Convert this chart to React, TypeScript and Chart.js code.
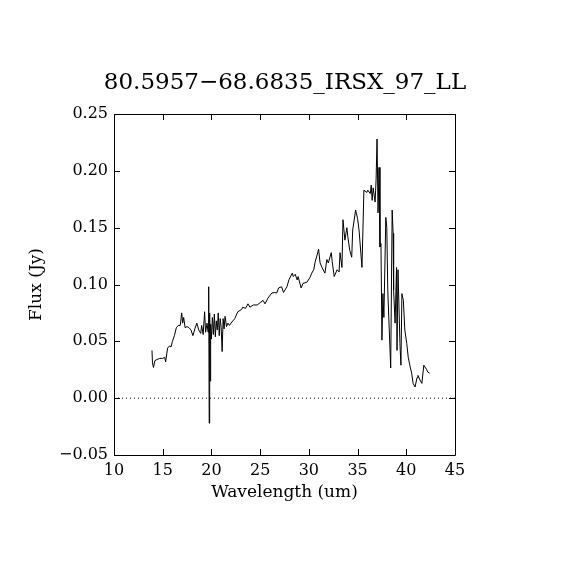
import React, { useEffect, useRef } from "react";
import { Chart, registerables } from "chart.js";

Chart.register(...registerables);

const titleText = "80.5957\u221268.6835_IRSX_97_LL";
const xAxisLabel = "Wavelength (um)";
const yAxisLabel = "Flux (Jy)";

const wavelength = [
  13.9, 13.95, 14.05, 14.2, 14.4, 14.7, 15.0, 15.2, 15.3, 15.5, 15.7, 15.85, 16.0, 16.2, 16.4, 16.6, 16.8,
  16.95, 17.05, 17.15, 17.3, 17.5, 17.7, 17.9, 18.1, 18.3, 18.5, 18.7, 18.9, 19.0, 19.15, 19.3, 19.4,
  19.55, 19.65, 19.72, 19.77, 19.82, 19.87, 19.92, 20.0, 20.1, 20.2, 20.3, 20.4, 20.5, 20.6, 20.7, 20.8,
  20.9, 21.0, 21.1, 21.2, 21.3, 21.4, 21.55, 21.7, 21.85, 22.1, 22.4, 22.7, 23.1, 23.2, 23.5, 23.75,
  23.95, 24.3, 24.7, 25.0, 25.3, 25.5, 25.8, 26.2, 26.5, 26.7, 26.9, 27.2, 27.4, 27.75, 27.95, 28.3,
  28.4, 28.6, 28.8, 28.9, 29.2, 29.4, 29.8, 30.1, 30.3, 30.5, 30.65, 30.85, 31.0, 31.15, 31.35, 31.65,
  31.85, 32.0, 32.3, 32.4, 32.6, 32.9, 33.1, 33.2, 33.4, 33.5, 33.7, 33.9, 34.0, 34.2, 34.4, 34.5, 34.8,
  35.0, 35.15, 35.45, 35.55, 35.65, 35.95, 36.05, 36.3, 36.4, 36.5, 36.6, 36.8, 36.9, 37.0, 37.1, 37.2,
  37.3, 37.4, 37.5, 37.6, 37.7, 37.9, 38.0, 38.1, 38.4, 38.55, 38.65, 38.7, 38.85, 39.0, 39.05, 39.15,
  39.35, 39.45, 39.55, 39.7, 39.85, 40.05, 40.2, 40.4, 40.55, 40.7, 40.9, 41.1, 41.2, 41.4, 41.6, 41.8,
  42.1, 42.2, 42.4,
];

const flux = [
  0.042, 0.031, 0.027, 0.033, 0.034, 0.035, 0.035, 0.036, 0.032, 0.044, 0.046, 0.045, 0.05, 0.055, 0.062, 0.064, 0.064,
  0.075, 0.066, 0.071, 0.062, 0.063, 0.062, 0.06, 0.055, 0.061, 0.066, 0.06, 0.057, 0.064, 0.056, 0.076, 0.058,
  0.066, 0.058, 0.098, -0.022, 0.075, 0.015, 0.065, 0.052, 0.071, 0.056, 0.074, 0.054, 0.068, 0.06, 0.075, 0.055,
  0.07, 0.062, 0.041, 0.07, 0.061, 0.072, 0.063, 0.066, 0.064, 0.067, 0.07, 0.076, 0.078, 0.08, 0.079, 0.083,
  0.08, 0.082, 0.082, 0.084, 0.086, 0.083, 0.088, 0.0925, 0.093, 0.0925, 0.097, 0.098, 0.093, 0.098, 0.104, 0.11,
  0.107, 0.109, 0.104, 0.107, 0.097, 0.101, 0.102, 0.106, 0.11, 0.113, 0.12, 0.126, 0.131, 0.119, 0.115, 0.11,
  0.122, 0.119, 0.128, 0.12, 0.107, 0.113, 0.111, 0.128, 0.115, 0.157, 0.139, 0.15, 0.142, 0.13, 0.124, 0.148, 0.1655,
  0.158, 0.148, 0.115, 0.148, 0.183, 0.181, 0.183, 0.18, 0.1875, 0.174, 0.185, 0.1725, 0.192, 0.228, 0.163, 0.203,
  0.133, 0.136, 0.051, 0.092, 0.071, 0.159, 0.15, 0.095, 0.0265, 0.1655, 0.145, 0.095, 0.066, 0.115, 0.042, 0.113,
  0.048, 0.029, 0.092, 0.086, 0.06, 0.048, 0.036, 0.0275, 0.022, 0.013, 0.0098, 0.018, 0.02, 0.016, 0.013, 0.029,
  0.025, 0.023, 0.022,
];

const xMin = 10;
const xMax = 45;
const xStep = 5;
const yMin = -0.05;
const yMax = 0.25;
const yStep = 0.05;
const zeroLine = [0, 0];

const FONT = "'DejaVu Serif', 'Liberation Serif', serif";

const frameAndTicks = {
  id: "frameAndTicks",
  afterDraw(chart: any) {
    const { ctx, chartArea } = chart;
    const { left, right, top, bottom } = chartArea;
    const xs = chart.scales.x;
    const ys = chart.scales.y;
    const len = 6;
    ctx.save();
    ctx.strokeStyle = "#000";
    ctx.lineWidth = 1;
    ctx.beginPath();
    ctx.rect(Math.round(left) + 0.5, Math.round(top) + 0.5, Math.round(right - left), Math.round(bottom - top));
    for (const t of xs.ticks) {
      const px = Math.round(xs.getPixelForValue(t.value)) + 0.5;
      ctx.moveTo(px, bottom);
      ctx.lineTo(px, bottom - len);
      ctx.moveTo(px, top);
      ctx.lineTo(px, top + len);
    }
    for (const t of ys.ticks) {
      const py = Math.round(ys.getPixelForValue(t.value)) + 0.5;
      ctx.moveTo(left, py);
      ctx.lineTo(left + len, py);
      ctx.moveTo(right, py);
      ctx.lineTo(right - len, py);
    }
    ctx.stroke();
    ctx.restore();
  },
};

export default function App() {
  const ref = useRef<HTMLCanvasElement | null>(null);
  useEffect(() => {
    document.body.style.margin = "0";
    const canvas = ref.current;
    if (!canvas) return;
    const chart = new Chart(canvas, {
      type: "line",
      data: {
        datasets: [
          {
            data: wavelength.map((w, i) => ({ x: w, y: flux[i] })),
            borderColor: "#000",
            borderWidth: 1,
            pointRadius: 0,
            tension: 0,
            fill: false,
          },
          {
            data: [
              { x: xMin, y: zeroLine[0] },
              { x: xMax, y: zeroLine[1] },
            ],
            borderColor: "#000",
            borderWidth: 1,
            borderDash: [1, 3],
            pointRadius: 0,
            fill: false,
          },
        ],
      },
      options: {
        animation: false,
        responsive: false,
        devicePixelRatio: 1,
        layout: { padding: 0 },
        plugins: {
          legend: { display: false },
          tooltip: { enabled: false },
          title: {
            display: true,
            text: titleText,
            color: "#000",
            font: { family: FONT, size: 23, weight: "normal" },
            padding: { top: 69, bottom: 17.4 },
          },
        },
        scales: {
          x: {
            type: "linear",
            position: "bottom",
            min: xMin,
            max: xMax,
            grid: { display: false, drawTicks: false },
            border: { display: false },
            ticks: {
              stepSize: xStep,
              color: "#000",
              padding: 6,
              maxRotation: 0,
              font: { family: FONT, size: 16 },
            },
            title: {
              display: true,
              text: xAxisLabel,
              color: "#000",
              font: { family: FONT, size: 17 },
              padding: { top: 0, bottom: 67 },
            },
            afterFit: (s: any) => {
              s.height = 115;
            },
          },
          y: {
            type: "linear",
            position: "left",
            min: yMin,
            max: yMax,
            grid: { display: false, drawTicks: false },
            border: { display: false },
            ticks: {
              stepSize: yStep,
              color: "#000",
              padding: 6,
              font: { family: FONT, size: 16 },
              callback: (v: any) => {
                const n = Math.abs(Number(v)) < 1e-9 ? 0 : Number(v);
                return n.toFixed(2).replace("-", "\u2212");
              },
            },
            title: {
              display: true,
              text: yAxisLabel,
              color: "#000",
              font: { family: FONT, size: 17 },
              padding: { top: 26, bottom: 0 },
            },
            afterFit: (s: any) => {
              s.width = 114;
            },
          },
          yRight: {
            type: "linear",
            position: "right",
            min: yMin,
            max: yMax,
            display: true,
            grid: { display: false, drawTicks: false },
            border: { display: false },
            ticks: { display: false },
            afterFit: (s: any) => {
              s.width = 115;
            },
          },
        },
      },
      plugins: [frameAndTicks],
    });
    return () => chart.destroy();
  }, []);
  return (
    <div style={{ width: 570, height: 570, background: "#fff" }}>
      <canvas ref={ref} width={570} height={570} />
    </div>
  );
}
